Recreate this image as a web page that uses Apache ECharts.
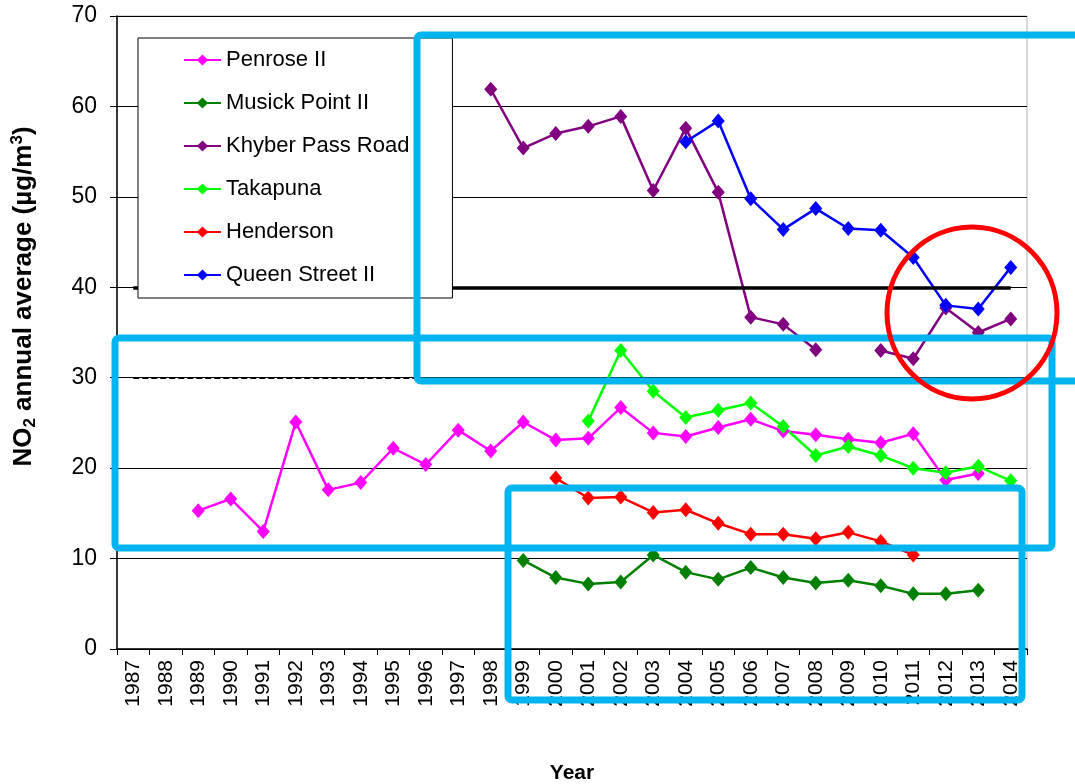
<!DOCTYPE html>
<html>
<head>
<meta charset="utf-8">
<title>NO2 annual average</title>
<script src="https://cdn.jsdelivr.net/npm/echarts@6/dist/echarts.min.js"></script>
<style>
  html, body { margin: 0; padding: 0; background: #fff; }
  #chart { width: 1075px; height: 784px; }
</style>
</head>
<body>
<div id="chart"></div>
<script>
// Years on the category axis
const years = ['1987','1988','1989','1990','1991','1992','1993','1994','1995','1996','1997','1998','1999','2000',
  '2001','2002','2003','2004','2005','2006','2007','2008','2009','2010','2011','2012','2013','2014'];

// Annual average NO2 (µg/m³) per monitoring site; null = no data for that year
const penrose = [null,null,15.3,16.6,13.0,25.1,17.6,18.4,22.2,20.4,24.2,21.9,25.1,23.1,
  23.3,26.7,23.9,23.5,24.5,25.4,24.1,23.7,23.2,22.8,23.8,18.7,19.4,null];
const musickPoint = [null,null,null,null,null,null,null,null,null,null,null,null,9.8,7.9,
  7.2,7.4,10.4,8.5,7.7,9.0,7.9,7.3,7.6,7.0,6.1,6.1,6.5,null];
const khyberPass = [null,null,null,null,null,null,null,null,null,null,null,61.9,55.4,57.0,
  57.8,58.9,50.7,57.6,50.5,36.7,35.9,33.1,null,33.0,32.1,37.7,35.0,36.5];
const takapuna = [null,null,null,null,null,null,null,null,null,null,null,null,null,null,
  25.2,33.0,28.5,25.6,26.4,27.2,24.6,21.4,22.4,21.4,20.0,19.5,20.2,18.6];
const henderson = [null,null,null,null,null,null,null,null,null,null,null,null,null,18.9,
  16.7,16.8,15.1,15.4,13.9,12.7,12.7,12.2,12.9,11.9,10.4,null,null,null];
const queenStreet = [null,null,null,null,null,null,null,null,null,null,null,null,null,null,
  null,null,null,56.1,58.4,49.8,46.4,48.7,46.5,46.3,43.3,38.0,37.6,42.2];

// Reference levels drawn across the whole period
const guidelineLevel = 40;
const alertLevel = 30;

const FONT = '"Liberation Sans", Arial, sans-serif';

const siteSeries = [
  { name: 'Penrose II', data: penrose, color: '#FF00FF' },
  { name: 'Musick Point II', data: musickPoint, color: '#008000' },
  { name: 'Khyber Pass Road', data: khyberPass, color: '#800080' },
  { name: 'Takapuna', data: takapuna, color: '#00FF00' },
  { name: 'Henderson', data: henderson, color: '#FF0000' },
  { name: 'Queen Street II', data: queenStreet, color: '#0000FF' }
];

const chart = echarts.init(document.getElementById('chart'), null, { renderer: 'canvas' });

const series = siteSeries.map(s => ({
  name: s.name,
  type: 'line',
  data: s.data,
  connectNulls: false,
  symbol: 'diamond',
  symbolSize: [13, 15],
  showAllSymbol: true,
  animation: false,
  z: 3,
  lineStyle: { color: s.color, width: 2.5 },
  itemStyle: { color: s.color },
  emphasis: { disabled: true }
}));

// Horizontal reference lines (solid at 40, dashed at 30)
series.push({
  name: 'levels',
  type: 'line',
  data: [],
  animation: false,
  z: 2,
  markLine: {
    silent: true,
    symbol: ['none', 'none'],
    label: { show: false },
    animation: false,
    data: [
      [
        { coord: [years[0], guidelineLevel], lineStyle: { color: '#000', width: 3.5, type: 'solid' } },
        { coord: [years[years.length - 1], guidelineLevel] }
      ],
      [
        { coord: [years[0], alertLevel], lineStyle: { color: '#000', width: 2, type: [6, 3] } },
        { coord: [years[years.length - 1], alertLevel] }
      ]
    ]
  }
});

const option = {
  backgroundColor: '#fff',
  animation: false,
  textStyle: { fontFamily: FONT },
  grid: {
    left: 117, right: 48, top: 16, bottom: 135,
    outerBoundsMode: 'none',
    containLabel: false,
    show: true, borderColor: '#b4b4b4', borderWidth: 1, backgroundColor: 'transparent'
  },
  legend: {
    data: siteSeries.map(s => s.name),
    orient: 'vertical',
    left: 138,
    top: 38,
    padding: [11, 43, 12, 45],
    itemGap: 21,
    itemWidth: 37,
    itemHeight: 14,
    backgroundColor: '#fff',
    borderColor: '#000',
    borderWidth: 1,
    z: 10,
    selectedMode: false,
    textStyle: { fontFamily: FONT, fontSize: 22, color: '#000', lineHeight: 22 }
  },
  xAxis: {
    type: 'category',
    data: years,
    boundaryGap: true,
    name: 'Year',
    nameLocation: 'middle',
    nameGap: 114,
    nameTextStyle: { fontFamily: '"Liberation Sans Narrow", "Liberation Sans", Arial, sans-serif', fontWeight: 'bold', fontSize: 21, color: '#000' },
    axisLine: { lineStyle: { color: '#000', width: 1.5 } },
    axisTick: { show: true, length: 6, lineStyle: { color: '#000' } },
    axisLabel: { rotate: 90, interval: 0, fontSize: 21, color: '#000', margin: 11, fontFamily: FONT },
    splitLine: { show: false }
  },
  yAxis: {
    type: 'value',
    min: 0, max: 70, interval: 10,
    name: '{b|NO}{sub|2}{b| annual average (µg/m}{sup|3}{b|)}',
    nameLocation: 'middle',
    nameRotate: 90,
    nameGap: 78,
    nameTextStyle: {
      color: '#000',
      padding: [0, 0, 0, 72],
      rich: {
        b: { fontFamily: FONT, fontWeight: 'bold', fontSize: 26, lineHeight: 30, color: '#000' },
        sub: { fontFamily: FONT, fontWeight: 'bold', fontSize: 17, lineHeight: 17, verticalAlign: 'bottom', color: '#000' },
        sup: { fontFamily: FONT, fontWeight: 'bold', fontSize: 17, lineHeight: 17, verticalAlign: 'top', color: '#000' }
      }
    },
    axisLine: { show: true, lineStyle: { color: '#000', width: 1.5 } },
    axisTick: { show: true, length: 7, lineStyle: { color: '#000' } },
    axisLabel: { fontSize: 23, color: '#000', margin: 20, fontFamily: FONT },
    splitLine: { show: true, lineStyle: { color: '#000', width: 1 } }
  },
  series: series,
  // Highlight frames and circle drawn over the plot
  graphic: [
    { type: 'rect', z: 100, silent: true,
      shape: { x: 417, y: 35, width: 720, height: 346, r: 4 },
      style: { fill: 'none', stroke: '#00B4F0', lineWidth: 7 } },
    { type: 'rect', z: 100, silent: true,
      shape: { x: 115, y: 338, width: 937, height: 210, r: 4 },
      style: { fill: 'none', stroke: '#00B4F0', lineWidth: 7 } },
    { type: 'rect', z: 100, silent: true,
      shape: { x: 508, y: 488, width: 514, height: 212, r: 4 },
      style: { fill: 'none', stroke: '#00B4F0', lineWidth: 7 } },
    { type: 'ellipse', z: 101, silent: true,
      shape: { cx: 972, cy: 313, rx: 85, ry: 86 },
      style: { fill: 'none', stroke: '#FF0000', lineWidth: 5 } }
  ]
};

chart.setOption(option);
</script>
</body>
</html>
